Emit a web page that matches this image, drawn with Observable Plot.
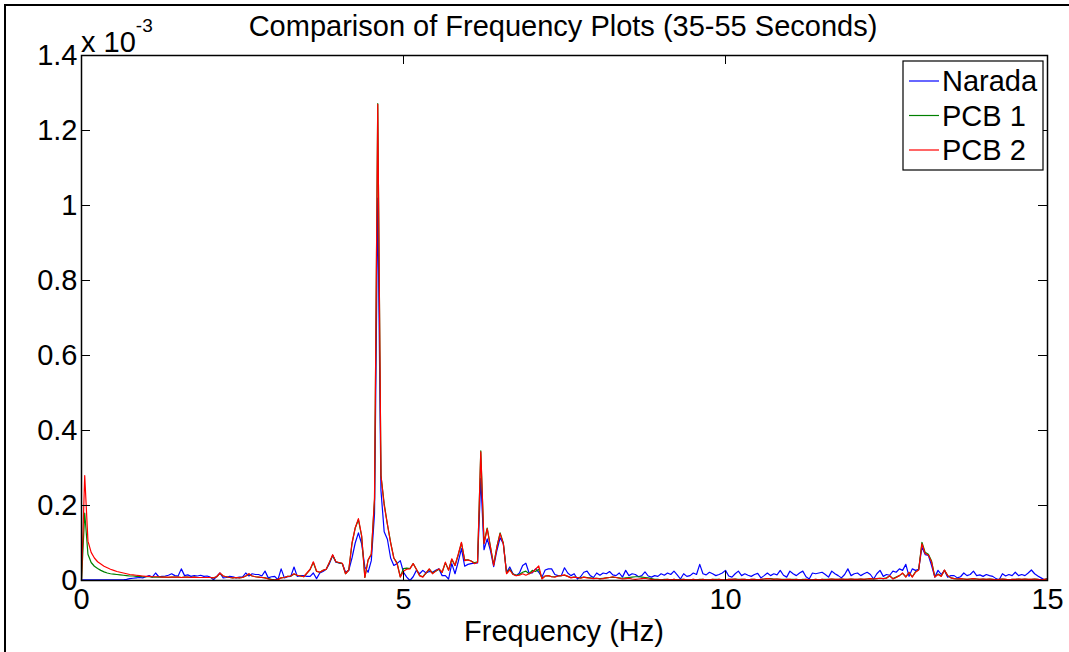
<!DOCTYPE html>
<html><head><meta charset="utf-8">
<script src="https://cdn.jsdelivr.net/npm/d3@7"></script>
<script src="https://cdn.jsdelivr.net/npm/@observablehq/plot@0.6"></script>
<style>html,body{margin:0;padding:0;background:#fff;} svg{display:block}</style>
</head><body><div id="chart"></div>
<script>
const title = "Comparison of Frequency Plots (35-55 Seconds)";
const xLabel = "Frequency (Hz)";
const yExponent = "-3";
const seriesNames = ["Narada", "PCB 1", "PCB 2"];
const seriesColors = ["#0000ff", "#008000", "#ff0000"];
const xTicks = [0, 5, 10, 15];
const yTicks = [0, 0.2, 0.4, 0.6, 0.8, 1, 1.2, 1.4];
const yTickLabels = ["0", "0.2", "0.4", "0.6", "0.8", "1", "1.2", "1.4"];
const binWidthHz = 0.05; // FFT bin spacing of a 20 s window

// values in units of 1e-3, one bin per 0.05 Hz (rows of 1 Hz)
const narada = [
0.002,0.002,0.002,0.002,0.002,0.002,0.002,0.002,0.002,0.002,0.002,0.002,0.002,0.002,0.003,0.005,0.006,0.007,0.008,0.007,
0.010,0.013,0.009,0.020,0.010,0.011,0.012,0.014,0.018,0.013,0.012,0.031,0.013,0.015,0.011,0.013,0.012,0.014,0.011,0.012,
0.009,0.002,0.011,0.020,0.007,0.008,0.011,0.010,0.007,0.009,0.009,0.020,0.012,0.018,0.016,0.016,0.012,0.025,0.007,0.010,
0.011,0.002,0.031,0.007,0.010,0.011,0.036,0.011,0.013,0.013,0.011,0.011,0.020,0.005,0.020,0.024,0.030,0.045,0.067,0.049,
0.047,0.045,0.022,0.027,0.060,0.100,0.127,0.098,0.036,0.022,0.053,0.178,1.020,0.240,0.130,0.110,0.060,0.040,0.045,0.053,
0.022,0.009,0.000,0.010,0.027,0.018,0.027,0.020,0.024,0.022,0.027,0.031,0.013,0.013,0.004,0.045,0.018,0.050,0.085,0.038,
0.043,0.045,0.046,0.047,0.272,0.082,0.111,0.080,0.037,0.080,0.114,0.098,0.022,0.036,0.018,0.013,0.020,0.040,0.046,0.020,
0.020,0.031,0.022,0.009,0.028,0.031,0.031,0.016,0.013,0.013,0.034,0.020,0.013,0.018,0.004,0.010,0.022,0.025,0.013,0.008,
0.020,0.014,0.020,0.018,0.024,0.015,0.013,0.020,0.009,0.027,0.013,0.018,0.016,0.010,0.013,0.023,0.012,0.009,0.013,0.011,
0.018,0.014,0.020,0.016,0.025,0.015,0.004,0.018,0.011,0.013,0.020,0.016,0.043,0.018,0.015,0.022,0.018,0.013,0.016,0.020,
0.027,0.012,0.009,0.018,0.025,0.013,0.018,0.014,0.011,0.016,0.019,0.007,0.013,0.020,0.013,0.018,0.015,0.027,0.014,0.009,
0.025,0.018,0.013,0.020,0.025,0.010,0.004,0.020,0.018,0.020,0.022,0.016,0.009,0.025,0.018,0.013,0.007,0.016,0.031,0.013,
0.018,0.020,0.013,0.018,0.022,0.016,0.004,0.018,0.027,0.011,0.016,0.014,0.025,0.022,0.031,0.027,0.043,0.011,0.031,0.027,
0.030,0.089,0.069,0.067,0.040,0.009,0.027,0.016,0.027,0.009,0.013,0.013,0.007,0.010,0.020,0.013,0.016,0.025,0.013,0.015,
0.011,0.016,0.013,0.011,0.005,0.002,0.018,0.012,0.016,0.013,0.022,0.013,0.016,0.013,0.020,0.028,0.018,0.012,0.007,0.002,0.005
];
const pcb1 = [
0.000,0.180,0.070,0.048,0.038,0.032,0.027,0.023,0.020,0.018,0.017,0.016,0.015,0.014,0.013,0.012,0.012,0.011,0.011,0.010,
0.010,0.010,0.009,0.009,0.009,0.009,0.009,0.008,0.009,0.009,0.009,0.008,0.009,0.009,0.008,0.009,0.008,0.008,0.008,0.008,
0.008,0.007,0.010,0.019,0.012,0.010,0.008,0.007,0.008,0.007,0.008,0.012,0.017,0.012,0.010,0.009,0.008,0.007,0.005,0.003,
0.002,0.003,0.007,0.008,0.011,0.012,0.017,0.014,0.012,0.010,0.019,0.029,0.048,0.024,0.022,0.027,0.030,0.048,0.067,0.050,
0.047,0.045,0.018,0.028,0.098,0.140,0.162,0.118,0.008,0.054,0.070,0.215,1.272,0.280,0.205,0.150,0.102,0.060,0.047,0.010,
0.032,0.033,0.032,0.045,0.030,0.013,0.010,0.020,0.030,0.020,0.025,0.030,0.022,0.047,0.028,0.056,0.040,0.068,0.100,0.055,
0.055,0.052,0.047,0.050,0.346,0.100,0.140,0.090,0.042,0.090,0.127,0.100,0.020,0.030,0.017,0.014,0.016,0.022,0.025,0.018,
0.027,0.024,0.030,0.006,0.012,0.013,0.010,0.010,0.012,0.013,0.014,0.011,0.008,0.009,0.008,0.007,0.009,0.008,0.007,0.006,
0.006,0.005,0.006,0.007,0.008,0.009,0.008,0.007,0.006,0.007,0.008,0.009,0.010,0.010,0.009,0.008,0.007,0.005,0.003,0.003,
0.002,0.003,0.003,0.002,0.003,0.002,0.003,0.003,0.002,0.002,0.003,0.002,0.003,0.003,0.002,0.002,0.003,0.003,0.003,0.002,
0.002,0.003,0.003,0.004,0.003,0.003,0.003,0.002,0.003,0.003,0.002,0.003,0.004,0.005,0.005,0.004,0.004,0.003,0.003,0.003,
0.003,0.003,0.003,0.002,0.003,0.003,0.002,0.002,0.003,0.002,0.003,0.003,0.003,0.004,0.003,0.003,0.004,0.003,0.003,0.004,
0.003,0.003,0.004,0.003,0.004,0.005,0.004,0.005,0.006,0.005,0.007,0.012,0.005,0.009,0.013,0.019,0.010,0.021,0.010,0.023,
0.029,0.102,0.075,0.070,0.052,0.010,0.017,0.012,0.027,0.013,0.007,0.005,0.004,0.005,0.004,0.003,0.004,0.005,0.004,0.003,
0.004,0.003,0.004,0.003,0.002,0.003,0.004,0.003,0.002,0.003,0.003,0.004,0.003,0.004,0.003,0.003,0.004,0.003,0.002,0.003,0.004
];
const pcb2 = [
0.000,0.280,0.105,0.075,0.060,0.050,0.044,0.038,0.034,0.030,0.027,0.024,0.022,0.020,0.018,0.016,0.015,0.014,0.013,0.012,
0.011,0.011,0.010,0.010,0.010,0.009,0.009,0.009,0.009,0.009,0.009,0.008,0.009,0.009,0.008,0.009,0.008,0.008,0.008,0.008,
0.008,0.007,0.010,0.020,0.012,0.010,0.008,0.007,0.008,0.007,0.008,0.012,0.018,0.012,0.010,0.009,0.008,0.007,0.004,0.002,
0.001,0.003,0.007,0.008,0.011,0.012,0.018,0.014,0.012,0.010,0.020,0.030,0.050,0.025,0.022,0.027,0.030,0.049,0.069,0.050,
0.048,0.046,0.018,0.028,0.100,0.140,0.165,0.120,0.008,0.055,0.070,0.220,1.270,0.280,0.200,0.150,0.100,0.060,0.045,0.009,
0.025,0.030,0.031,0.045,0.030,0.013,0.009,0.020,0.031,0.018,0.025,0.031,0.022,0.049,0.027,0.058,0.040,0.070,0.102,0.053,
0.055,0.052,0.045,0.048,0.343,0.098,0.138,0.089,0.040,0.089,0.125,0.098,0.018,0.028,0.016,0.013,0.014,0.018,0.014,0.018,
0.022,0.030,0.039,0.004,0.012,0.013,0.010,0.009,0.012,0.013,0.015,0.011,0.007,0.009,0.008,0.006,0.009,0.007,0.006,0.005,
0.006,0.004,0.005,0.007,0.008,0.010,0.008,0.006,0.004,0.005,0.006,0.004,0.003,0.004,0.005,0.006,0.004,0.003,0.002,0.002,
0.002,0.002,0.003,0.002,0.003,0.002,0.002,0.003,0.002,0.002,0.003,0.002,0.002,0.003,0.002,0.002,0.003,0.002,0.003,0.002,
0.002,0.003,0.003,0.004,0.002,0.003,0.003,0.002,0.003,0.003,0.002,0.003,0.004,0.005,0.004,0.003,0.004,0.003,0.002,0.003,
0.003,0.002,0.003,0.002,0.002,0.003,0.002,0.002,0.003,0.002,0.003,0.002,0.003,0.004,0.003,0.003,0.004,0.003,0.003,0.004,
0.003,0.003,0.004,0.003,0.004,0.005,0.004,0.005,0.006,0.005,0.006,0.013,0.004,0.008,0.013,0.020,0.009,0.022,0.009,0.022,
0.028,0.098,0.072,0.068,0.049,0.009,0.016,0.011,0.028,0.013,0.007,0.005,0.004,0.005,0.004,0.003,0.004,0.005,0.004,0.003,
0.004,0.003,0.004,0.003,0.002,0.003,0.004,0.003,0.002,0.003,0.003,0.004,0.003,0.004,0.003,0.003,0.004,0.003,0.002,0.003,0.004
];

const W = 1069, H = 652, mL = 81, mT = 55, mR = 22, mB = 72;
const plotW = W - mL - mR, plotH = H - mT - mB;
const tickLen = 9;
const font = "Arial, 'Liberation Sans', Helvetica, sans-serif";
const fs = 29;

const seriesData = [narada, pcb1, pcb2].map((vals, s) =>
  vals.map((v, i) => ({series: seriesNames[s], f: Math.round(i * binWidthHz * 100) / 100, v})));

const chart = Plot.plot({
  width: W, height: H,
  marginLeft: mL, marginTop: mT, marginRight: mR, marginBottom: mB,
  style: {fontFamily: font, background: "white", color: "black"},
  x: {domain: [0, 15]},
  y: {domain: [0, 1.4]},
  marks: [
    ...seriesData.map((d, s) => Plot.line(d, {x: "f", y: "v", stroke: seriesColors[s], strokeWidth: 1.2})),
    Plot.frame({stroke: "black", strokeWidth: 1.5}),
    Plot.ruleX(xTicks, {stroke: "black", insetTop: plotH - tickLen}),
    Plot.ruleX(xTicks, {stroke: "black", insetBottom: plotH - tickLen}),
    Plot.ruleY(yTicks, {stroke: "black", insetRight: plotW - tickLen}),
    Plot.ruleY(yTicks, {stroke: "black", insetLeft: plotW - tickLen}),
    Plot.axisX({ticks: xTicks, tickSize: 0, tickPadding: 8, fontSize: fs, label: null, tickFormat: d => String(d)}),
    Plot.axisY({ticks: yTicks, tickSize: 0, tickPadding: 4, fontSize: fs, label: null,
      tickFormat: d => yTickLabels[yTicks.indexOf(d)]})
  ]
});
document.getElementById("chart").appendChild(chart);

const svg = d3.select(chart);
svg.append("rect").attr("x", 5).attr("y", 5).attr("width", 3000).attr("height", 3000)
  .attr("fill", "none").attr("stroke", "black").attr("stroke-width", 2);
svg.append("text").attr("x", 563).attr("y", 36).attr("text-anchor", "middle")
  .attr("font-family", font).attr("font-size", fs).attr("fill", "black").text(title);
svg.append("text").attr("x", 564).attr("y", 641).attr("text-anchor", "middle")
  .attr("font-family", font).attr("font-size", fs).attr("fill", "black").text(xLabel);
const exp = svg.append("text").attr("x", 81).attr("y", 52).attr("text-anchor", "start")
  .attr("font-family", font).attr("font-size", fs).attr("fill", "black");
exp.append("tspan").text("x 10");
exp.append("tspan").attr("dy", -20).attr("font-size", 19).text(yExponent);

const lg = svg.append("g");
lg.append("rect").attr("x", 903).attr("y", 61).attr("width", 140).attr("height", 109)
  .attr("fill", "white").attr("stroke", "black").attr("stroke-width", 1.2);
seriesNames.forEach((name, i) => {
  const y = 81 + i * 34.5;
  lg.append("line").attr("x1", 909).attr("x2", 939).attr("y1", y).attr("y2", y)
    .attr("stroke", seriesColors[i]).attr("stroke-width", 1.2);
  lg.append("text").attr("x", 942).attr("y", y + 10).attr("text-anchor", "start")
    .attr("font-family", font).attr("font-size", fs).attr("fill", "black").text(name);
});
</script>
</body></html>
